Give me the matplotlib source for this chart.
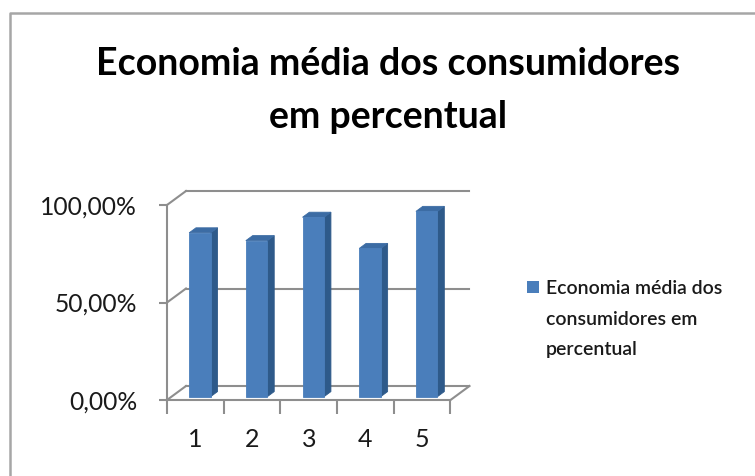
import matplotlib.pyplot as plt
from matplotlib.patches import Polygon
from matplotlib.lines import Line2D

# dados
categorias = ['1', '2', '3', '4', '5']
valores = [0.84, 0.80, 0.92, 0.76, 0.95]
rotulos_y = ['0,00%', '50,00%', '100,00%']
ticks_y = [0.0, 0.5, 1.0]
titulo = ['Economia média dos consumidores', 'em percentual']
legenda = ['Economia média dos', 'consumidores em', 'percentual']

plt.rcParams['font.family'] = ['Lato', 'DejaVu Sans']

W, H = 755, 476
fig = plt.figure(figsize=(W / 100, H / 100), dpi=100)

# area do grafico (plano frontal) em pixels
x0, x1 = 167, 450.5
y0, y1 = 400, 205
ax = fig.add_axes([x0 / W, 1 - y0 / H, (x1 - x0) / W, (y0 - y1) / H])
n = len(categorias)
ax.set_xlim(0, n)
ax.set_ylim(0, 1)

# profundidade (projecao obliqua)
DX = 19 / ((x1 - x0) / n)
DY = 14 / (y0 - y1)
cinza = '#8e8e8e'
lw = 1.5

def proj(x, y, f):
    return (x + f * DX, y + f * DY)

# parede do fundo e lateral
for v in ticks_y:
    ax.plot([DX, n + DX], [v + DY, v + DY], color=cinza, lw=lw, clip_on=False, zorder=1)
    ax.plot([0, DX], [v, v + DY], color=cinza, lw=lw, clip_on=False, zorder=1)
# chao
ax.plot([n, n + DX], [0, DY], color=cinza, lw=lw, clip_on=False, zorder=1)

# barras 3D
largura = 0.38
f0, f1 = 0.24, 0.6
c_frente = '#4a7ebb'
c_lado = '#2e5a8a'
c_topo = '#3c6ca4'
for i, v in enumerate(valores):
    a = i + 0.5 - largura / 2
    b = i + 0.5 + largura / 2
    frente = [proj(a, 0, f0), proj(b, 0, f0), proj(b, v, f0), proj(a, v, f0)]
    lado = [proj(b, 0, f0), proj(b, 0, f1), proj(b, v, f1), proj(b, v, f0)]
    topo = [proj(a, v, f0), proj(b, v, f0), proj(b, v, f1), proj(a, v, f1)]
    for pts, c in [(lado, c_lado), (topo, c_topo), (frente, c_frente)]:
        ax.add_patch(Polygon(pts, closed=True, facecolor=c, edgecolor=c,
                             lw=0.6, clip_on=False, zorder=3))

# eixos
for s in ['top', 'right']:
    ax.spines[s].set_visible(False)
for s in ['left', 'bottom']:
    ax.spines[s].set_color(cinza)
    ax.spines[s].set_linewidth(lw)
    ax.spines[s].set_zorder(2)
ax.set_facecolor('none')

ax.set_yticks(ticks_y)
ax.set_yticklabels(rotulos_y, fontsize=17.7, color='#1a1a1a')
ax.tick_params(axis='y', length=6, width=lw, color=cinza, pad=15.5)

ax.set_xticks(range(n + 1))
ax.set_xticklabels([''] * (n + 1))
ax.set_xticks([i + 0.5 for i in range(n)], minor=True)
ax.set_xticklabels(categorias, minor=True, fontsize=18, color='#1a1a1a')
ax.tick_params(axis='x', which='major', length=10, width=lw, color=cinza)
ax.tick_params(axis='x', which='minor', length=0, pad=20)

# titulo
fig.text(388 / W, 1 - 75 / H, titulo[0], ha='center', va='baseline',
         fontsize=27, fontweight='bold', color='black')
fig.text(388 / W, 1 - 128 / H, titulo[1], ha='center', va='baseline',
         fontsize=27, fontweight='bold', color='black')

# legenda
fig.patches.append(plt.Rectangle((527 / W, 1 - 293 / H), 12 / W, 12 / H,
                                 transform=fig.transFigure, facecolor=c_frente,
                                 edgecolor='none'))
for k, (linha, yy) in enumerate(zip(legenda, [287, 318, 348])):
    fig.text(546 / W, 1 - yy / H, linha, ha='left', va='center_baseline',
             fontsize=14, fontweight='semibold', color='#1a1a1a')

# borda do grafico
fig.add_artist(Line2D([10 / W, 10 / W, 1], [0, 1 - 13 / H, 1 - 13 / H],
                      transform=fig.transFigure, color='#a6a6a6', lw=1.8))

fig.savefig('out.png', dpi=100)
